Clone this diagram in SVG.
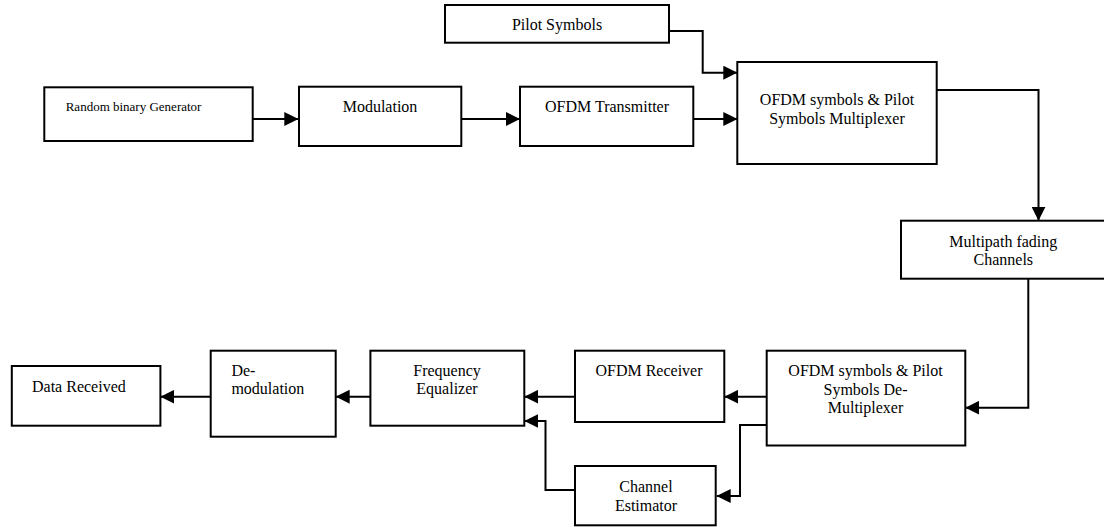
<svg xmlns="http://www.w3.org/2000/svg" width="1104" height="527" viewBox="0 0 1104 527">
<style>
.box{fill:#fff;stroke:#000;stroke-width:2}
.t{font-family:"Liberation Serif","Times New Roman",serif;font-size:16px;fill:#000;text-anchor:middle}
.s{text-anchor:start}
.c{fill:none;stroke:#000;stroke-width:2}
</style>
<defs>
<marker id="ah" markerUnits="userSpaceOnUse" markerWidth="14" markerHeight="14" refX="14" refY="7" orient="auto">
<path d="M0,0 L14,7 L0,14 z" fill="#000"/>
</marker>
</defs>
<rect width="1104" height="527" fill="#fff"/>
<g id="connectors">
<path class="c" d="M252.7,119 H298.3" marker-end="url(#ah)"/>
<path class="c" d="M461.3,119 H520" marker-end="url(#ah)"/>
<path class="c" d="M693.3,119 H737.3" marker-end="url(#ah)"/>
<path class="c" d="M669,31 H702.7 V72.7 H737.3" marker-end="url(#ah)"/>
<path class="c" d="M936.7,90 H1038.5 V220.7" marker-end="url(#ah)"/>
<path class="c" d="M1028.3,278.7 V407.7 H965.3" marker-end="url(#ah)"/>
<path class="c" d="M766.7,396.7 H724.3" marker-end="url(#ah)"/>
<path class="c" d="M575,396.7 H524.3" marker-end="url(#ah)"/>
<path class="c" d="M766.7,425 H740 V496 H716.7" marker-end="url(#ah)"/>
<path class="c" d="M575,490 H545.5 V421 H524.3" marker-end="url(#ah)"/>
<path class="c" d="M370.4,396.7 H335.7" marker-end="url(#ah)"/>
<path class="c" d="M210.7,396.7 H160.4" marker-end="url(#ah)"/>
</g>
<g id="pilot">
<rect class="box" x="445" y="5" width="224" height="37.7"/>
<text class="t" x="557" y="29.5">Pilot Symbols</text>
</g>
<g id="random">
<rect class="box" x="44.3" y="87.3" width="208.4" height="53.7"/>
<text class="t s" x="65.7" y="110.7" style="font-size:13px">Random binary Generator</text>
</g>
<g id="modulation">
<rect class="box" x="299" y="86.7" width="162.3" height="59.3"/>
<text class="t" x="380" y="111.7">Modulation</text>
</g>
<g id="transmitter">
<rect class="box" x="520" y="86.7" width="173.3" height="59.3"/>
<text class="t" x="607" y="111.7">OFDM Transmitter</text>
</g>
<g id="multiplexer">
<rect class="box" x="737.3" y="62" width="199.4" height="102"/>
<text class="t" x="837" y="105">OFDM symbols &amp; Pilot</text>
<text class="t" x="837" y="123.5">Symbols Multiplexer</text>
</g>
<g id="multipath">
<rect class="box" x="901" y="220.7" width="210" height="58"/>
<text class="t" x="1003.3" y="246.7">Multipath fading</text>
<text class="t" x="1003.3" y="264.5">Channels</text>
</g>
<g id="demultiplexer">
<rect class="box" x="766.7" y="350.7" width="198.6" height="94.8"/>
<text class="t" x="865.5" y="376">OFDM symbols &amp; Pilot</text>
<text class="t" x="865.5" y="394.5">Symbols De-</text>
<text class="t" x="865.5" y="413">Multiplexer</text>
</g>
<g id="receiver">
<rect class="box" x="575" y="350.7" width="149.3" height="71.3"/>
<text class="t" x="649" y="376">OFDM Receiver</text>
</g>
<g id="equalizer">
<rect class="box" x="370.4" y="350.7" width="153.9" height="75"/>
<text class="t" x="447" y="376">Frequency</text>
<text class="t" x="447" y="394.3">Equalizer</text>
</g>
<g id="demodulation">
<rect class="box" x="210.7" y="350.7" width="125" height="86"/>
<text class="t s" x="231.4" y="376">De-</text>
<text class="t s" x="231.4" y="394.3">modulation</text>
</g>
<g id="data">
<rect class="box" x="11.8" y="366" width="148.6" height="59.7"/>
<text class="t s" x="32" y="391.7">Data Received</text>
</g>
<g id="estimator">
<rect class="box" x="575" y="466" width="140.7" height="59.3"/>
<text class="t" x="646" y="491.7">Channel</text>
<text class="t" x="646" y="510.7">Estimator</text>
</g>
</svg>
